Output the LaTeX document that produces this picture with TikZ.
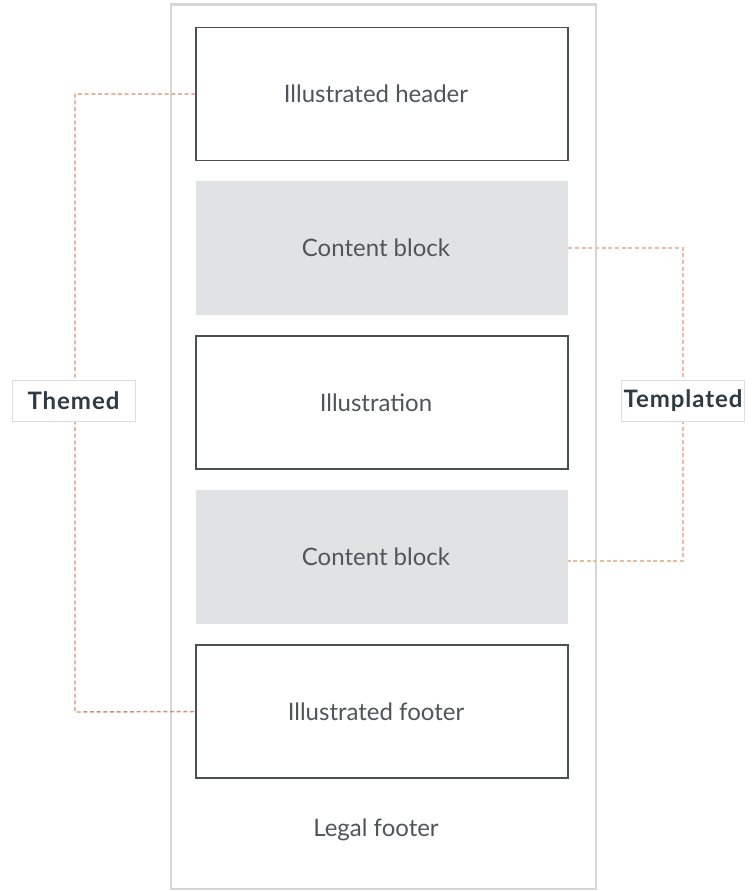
\documentclass[tikz,border=0pt]{standalone}
\usepackage{fontspec}
\setmainfont{Lato}
\newfontfamily\lblfont[LetterSpace=4]{Lato}
\begin{document}
\begin{tikzpicture}[x=0.75pt,y=-0.75pt,
  txt/.style={text=textgray,font=\fontsize{18}{21}\selectfont},
  wbox/.style={draw=boxgray,line width=1.1pt,fill=white,minimum width=372*0.75pt,minimum height=133*0.75pt,inner sep=0pt,txt},
  gbox/.style={draw=none,fill=fillgray,minimum width=372*0.75pt,minimum height=134*0.75pt,inner sep=0pt,txt},
  lbl/.style={draw=lblborder,line width=0.5pt,fill=white,minimum width=123*0.75pt,minimum height=41*0.75pt,inner sep=0pt,text=lbltext,font=\lblfont\fontsize{18}{21}\selectfont\bfseries},
  themedline/.style={draw=themed,line width=1.1pt,dash pattern=on 3pt off 2pt},
  templline/.style={draw=templ,line width=1.1pt,dash pattern=on 3pt off 2pt}]
\definecolor{textgray}{HTML}{50555A}
\definecolor{boxgray}{HTML}{4A4F54}
\definecolor{fillgray}{HTML}{E1E2E3}
\definecolor{framegray}{HTML}{D6D6D6}
\definecolor{lblborder}{HTML}{DDDDDD}
\definecolor{lbltext}{HTML}{2F3A44}
\definecolor{themed}{HTML}{D98E6E}
\definecolor{templ}{HTML}{E9BDA3}
\useasboundingbox (0,0) rectangle (751,891);
\fill[white] (0,0) rectangle (751,891);
\draw[framegray,line width=1.6pt] (171,4.5) rectangle (596,889);
\node[wbox] (hdr) at (382,94) {\hspace*{-9pt}Illustrated header};
\node[gbox] (cb1) at (382,248) {\hspace*{-9pt}Content block};
\node[wbox] (ill) at (382,402.5) {\hspace*{-9pt}Illustration};
\node[gbox] (cb2) at (382,557) {\hspace*{-9pt}Content block};
\node[wbox] (ftr) at (382,711.5) {\hspace*{-9pt}Illustrated footer};
\node[txt] (legal) at (376,830) {Legal footer};
\coordinate (t1) at (75,94);
\coordinate (t2) at (75,712);
\coordinate (p1) at (683,248);
\coordinate (p2) at (683,561);
\draw[themedline] (hdr.west) -- (t1) -- (t2) -- (ftr.west);
\draw[templline] (cb1.east) -- (p1) -- (p2) -- (cb2.east |- p2);
\node[lbl] (themed) at (73.5,400.5) {Themed};
\node[lbl] (templated) at (683,400.5) {Templated};
\end{tikzpicture}
\end{document}
